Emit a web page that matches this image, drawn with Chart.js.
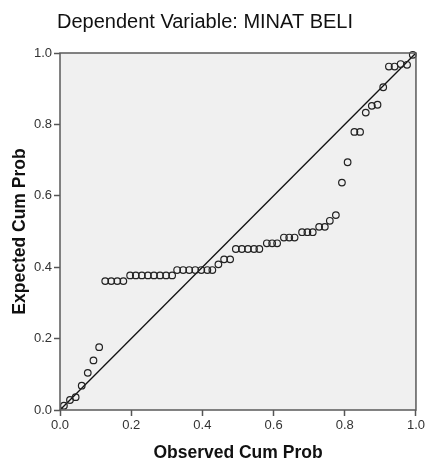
<!DOCTYPE html>
<html>
<head>
<meta charset="utf-8">
<script src="https://cdn.jsdelivr.net/npm/chart.js@4"></script>
<style>
  html, body { margin: 0; padding: 0; background: #fff; }
  #wrap { width: 427px; height: 464px; }
</style>
</head>
<body>
<div id="wrap"><canvas id="pp"></canvas></div>
<script>
// P-P plot of regression standardized residual
const titulo = 'Dependent Variable: MINAT BELI';
const tituloX = 'Observed Cum Prob';
const tituloY = 'Expected Cum Prob';
const ticks = [0, 0.2, 0.4, 0.6, 0.8, 1.0];

// observed cum prob
const observado = [
  0.011, 0.028, 0.044, 0.061, 0.078, 0.094, 0.110, 0.127, 0.144, 0.161,
  0.178, 0.197, 0.213, 0.230, 0.247, 0.264, 0.281, 0.298, 0.315, 0.329,
  0.346, 0.363, 0.380, 0.397, 0.414, 0.428, 0.445, 0.461, 0.478, 0.494,
  0.511, 0.528, 0.545, 0.560, 0.581, 0.596, 0.610, 0.629, 0.644, 0.659,
  0.680, 0.695, 0.710, 0.728, 0.744, 0.758, 0.775, 0.792, 0.808, 0.827,
  0.843, 0.859, 0.876, 0.892, 0.908, 0.924, 0.940, 0.957, 0.975, 0.991
];
// expected cum prob
const esperado = [
  0.012, 0.028, 0.036, 0.068, 0.104, 0.139, 0.176, 0.361, 0.361, 0.361,
  0.361, 0.377, 0.377, 0.377, 0.377, 0.377, 0.377, 0.377, 0.377, 0.392,
  0.392, 0.392, 0.392, 0.392, 0.392, 0.392, 0.408, 0.422, 0.422, 0.451,
  0.451, 0.451, 0.451, 0.451, 0.467, 0.467, 0.467, 0.483, 0.483, 0.483,
  0.498, 0.498, 0.498, 0.513, 0.513, 0.530, 0.546, 0.637, 0.694, 0.779,
  0.779, 0.833, 0.852, 0.855, 0.904, 0.962, 0.962, 0.969, 0.967, 0.995
];
const diagonal = [0, 1];

const puntos = observado.map((x, i) => ({ x, y: esperado[i] }));
const linea = diagonal.map(v => ({ x: v, y: v }));

// fondo gris y marco del área de trazado + título
const marcoPlugin = {
    id: 'marco',
    beforeDatasetsDraw(chart) {
        const { ctx, chartArea: a } = chart;
        ctx.save();
        ctx.fillStyle = '#f0f0f0';
        ctx.fillRect(a.left, a.top, a.right - a.left, a.bottom - a.top);
        ctx.restore();
    },
    afterDraw(chart) {
        const { ctx, chartArea: a } = chart;
        ctx.save();
        ctx.strokeStyle = '#5a5a5a';
        ctx.lineWidth = 1.5;
        ctx.strokeRect(a.left, a.top, a.right - a.left, a.bottom - a.top);
        ctx.fillStyle = '#111';
        ctx.font = '20px "Liberation Sans", Arial, sans-serif';
        ctx.textAlign = 'center';
        ctx.textBaseline = 'middle';
        ctx.fillText(titulo, 205, 22);
        ctx.restore();
    }
};

const fuenteTicks = { family: '"Liberation Sans", Arial, sans-serif', size: 13 };
const fuenteTitulo = { family: '"Liberation Sans", Arial, sans-serif', size: 17.5, weight: 'bold' };

new Chart(document.getElementById('pp'), {
    type: 'scatter',
    data: {
        datasets: [
            {
                type: 'line',
                data: linea,
                borderColor: '#111',
                borderWidth: 1.3,
                pointRadius: 0,
                order: 1
            },
            {
                data: puntos,
                pointStyle: 'circle',
                pointRadius: 3.3,
                pointBorderWidth: 1.2,
                borderColor: '#222',
                backgroundColor: 'rgba(0,0,0,0)',
                order: 0
            }
        ]
    },
    options: {
        responsive: true,
        maintainAspectRatio: false,
        animation: false,
        clip: false,
        layout: { padding: { left: 0, right: 11, top: 53, bottom: 0 } },
        plugins: { legend: { display: false }, tooltip: { enabled: false } },
        scales: {
            x: {
                type: 'linear',
                min: 0, max: 1,
                afterBuildTicks: s => { s.ticks = ticks.map(v => ({ value: v })); },
                afterFit: s => { s.height = 54; },
                grid: { drawOnChartArea: false, drawTicks: true, tickLength: 6, tickColor: '#555', tickWidth: 1.5 },
                border: { display: false },
                ticks: { color: '#333', font: fuenteTicks, padding: 2, callback: v => v.toFixed(1), maxRotation: 0 },
                title: { display: true, text: tituloX, color: '#111', font: fuenteTitulo, padding: { top: 0, bottom: 0 } }
            },
            y: {
                type: 'linear',
                min: 0, max: 1,
                afterBuildTicks: s => { s.ticks = ticks.map(v => ({ value: v })); },
                afterFit: s => { s.width = 60; },
                grid: { drawOnChartArea: false, drawTicks: true, tickLength: 6, tickColor: '#555', tickWidth: 1.5 },
                border: { display: false },
                ticks: { color: '#333', font: fuenteTicks, padding: 2, callback: v => v.toFixed(1) },
                title: { display: true, text: tituloY, color: '#111', font: fuenteTitulo, padding: { top: 10, bottom: 0 } }
            }
        }
    },
    plugins: [marcoPlugin]
});
</script>
</body>
</html>
